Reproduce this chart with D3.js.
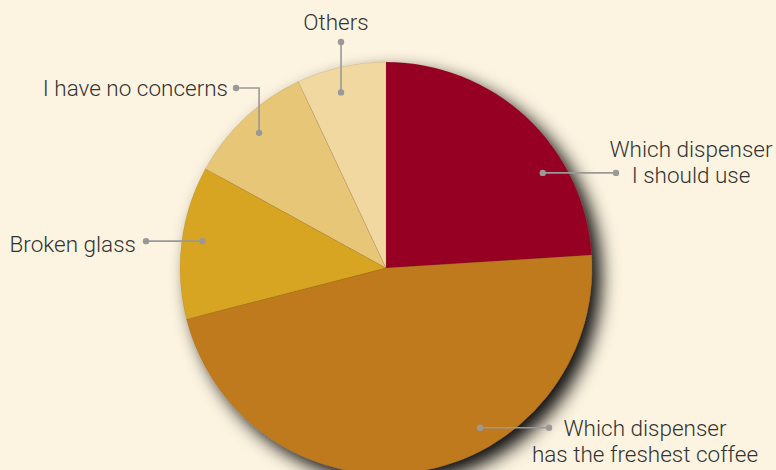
<!DOCTYPE html>
<html>
<head>
<meta charset="utf-8">
<script src="https://cdn.jsdelivr.net/npm/d3@7"></script>
<style>
  html, body { margin: 0; padding: 0; background: #fcf3e0; }
  svg { display: block; }
  text { font-family: Roboto, "Liberation Sans", sans-serif; font-weight: 300; fill: #333; }
</style>
</head>
<body>
<div id="chart"></div>
<script>
// Survey answers (share of respondents, %)
const categories = [
  "Which dispenser I should use",
  "Which dispenser has the freshest coffee",
  "Broken glass",
  "I have no concerns",
  "Others"
];
const values = [24, 47, 12, 10, 7];
const colors = ["#960024", "#be7a1e", "#d8a520", "#e8c677", "#f0d8a0"];

const width = 776;
const height = 470;
const cx = 386, cy = 268, radius = 206;

const svg = d3.select("#chart").append("svg")
    .attr("width", width)
    .attr("height", height);

// drop shadow under the pie
const defs = svg.append("defs");
const filter = defs.append("filter")
    .attr("id", "shadow")
    .attr("x", "-20%").attr("y", "-20%")
    .attr("width", "150%").attr("height", "150%");
filter.append("feDropShadow")
    .attr("dx", 9).attr("dy", 9)
    .attr("stdDeviation", 9)
    .attr("flood-color", "#000")
    .attr("flood-opacity", 0.95);

const pie = d3.pie().sort(null).value(d => d);
const arcs = pie(values);
const arc = d3.arc().innerRadius(0).outerRadius(radius);

const g = svg.append("g").attr("transform", `translate(${cx},${cy})`);

const slices = g.append("g").attr("filter", "url(#shadow)");
slices.selectAll("path")
    .data(arcs)
    .enter().append("path")
    .attr("d", arc)
    .attr("fill", (d, i) => colors[i])
    .attr("stroke", "rgba(120,90,40,0.3)")
    .attr("stroke-width", 0.5);

// label layout: where along the slice the dot sits, and where the leader goes
const labelLayout = [
  { t: 0.68, r: 0.89, kind: "h", end: 616, lines: ["Which dispenser", "I should use"], tx: 691, ty: 157, anchor: "middle" },
  { t: 0.373, r: 0.9, kind: "h", end: 549, lines: ["Which dispenser", "has the freshest coffee"], tx: 645, ty: 436, anchor: "middle" },
  { t: 0.526, r: 0.9, kind: "h", end: 146, lines: ["Broken glass"], tx: 136, ty: 252, anchor: "end" },
  { t: 0.5, r: 0.9, kind: "elbow", endY: 88, end: 236, lines: ["I have no concerns"], tx: 228, ty: 96, anchor: "end" },
  { t: 0.43, r: 0.88, kind: "v", endY: 42, lines: ["Others"], tx: 336, ty: 30, anchor: "middle" }
];

const labels = svg.append("g");

arcs.forEach((d, i) => {
  const L = labelLayout[i];
  const a = d.startAngle + L.t * (d.endAngle - d.startAngle);
  const x0 = cx + Math.sin(a) * radius * L.r;
  const y0 = cy - Math.cos(a) * radius * L.r;
  let pts;
  if (L.kind === "h") {
    pts = [[x0, y0], [L.end, y0]];
  } else if (L.kind === "v") {
    pts = [[x0, y0], [x0, L.endY]];
  } else {
    pts = [[x0, y0], [x0, L.endY], [L.end, L.endY]];
  }
  labels.append("path")
      .attr("d", d3.line()(pts))
      .attr("fill", "none")
      .attr("stroke", "#999")
      .attr("stroke-width", 1.6);
  [pts[0], pts[pts.length - 1]].forEach(p => {
    labels.append("circle")
        .attr("cx", p[0]).attr("cy", p[1])
        .attr("r", 3.2)
        .attr("fill", "#999");
  });
  const text = labels.append("text")
      .attr("x", L.tx)
      .attr("y", L.ty)
      .attr("text-anchor", L.anchor)
      .style("font-size", "22.5px");
  L.lines.forEach((line, j) => {
    text.append("tspan")
        .attr("x", L.tx)
        .attr("dy", j === 0 ? 0 : 26)
        .text(line);
  });
});
</script>
</body>
</html>
